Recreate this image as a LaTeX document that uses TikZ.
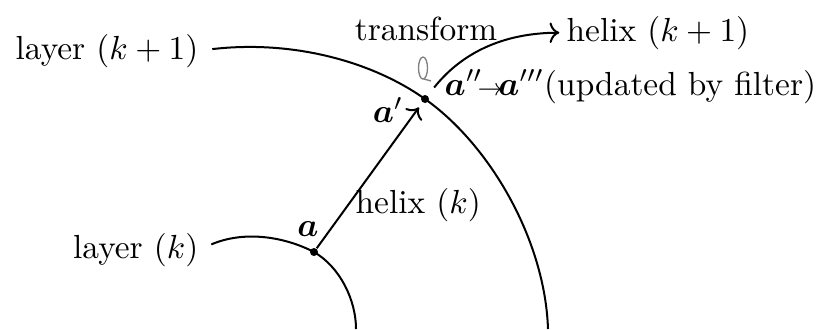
\documentclass[tikz,border=0pt]{standalone}
\usepackage{amsmath}
\usepackage{tikz}
\usetikzlibrary{arrows.meta, positioning, calc}

\begin{document}
\begin{tikzpicture}[
    x=0.01053cm, y=-0.01053cm,
    layer/.style={semithick},
    helixarrow/.style={->, semithick},
    dotmark/.style={circle, fill=black, inner sep=0pt, minimum size=2.4pt},
    lbl/.style={inner sep=0pt},
]
    \useasboundingbox (0,0) rectangle (826,329);

    % hits on the two layers
    \node[dotmark] (a) at (314,252) {};
    \node[dotmark] (a1) at (425,99) {};

    % labels
    \node[lbl, anchor=base east] (lk1) at (199,59) {layer $(k+1)$};
    \node[lbl, anchor=base east] (lk) at (199,258) {layer $(k)$};
    \node[lbl, anchor=base west] (hk1) at (566,41) {helix $(k+1)$};
    \node[lbl, anchor=base] (tr) at (426,40) {transform};
    \node[lbl, anchor=base west] (upd) at (444,95) {$\boldsymbol{a}''\!\mathord{\scriptstyle\rightarrow}\!\boldsymbol{a}'''$(updated by filter)};
    \node[lbl] (la) at (308,229) {$\boldsymbol{a}$};
    \node[lbl] (la1) at (388,110) {$\boldsymbol{a}'$};
    \node[lbl, anchor=base west] (hk) at (355,213) {helix $(k)$};

    % layers
    \draw[layer, shorten <=4pt] (lk1.east) .. controls (290,40) and (370,60) .. (a1.center)
        .. controls (490,145) and (545,240) .. (548,329);
    \draw[layer, shorten <=4pt] (lk.east) .. controls (245,230) and (285,237) .. (a.center)
        .. controls (340,267) and (356,300) .. (356,329);

    % helices
    \draw[helixarrow, shorten >=1.7pt] (a) -- (a1);
    \draw[helixarrow, shorten <=3pt, shorten >=2pt] (a1) .. controls (460,55) and (500,33) .. (hk1.west);

    % transform mark
    \draw[gray, thin] (423,68) ellipse [x radius=4.5, y radius=11];
    \draw[gray, thin] (424,79) -- (431,81);
\end{tikzpicture}
\end{document}
